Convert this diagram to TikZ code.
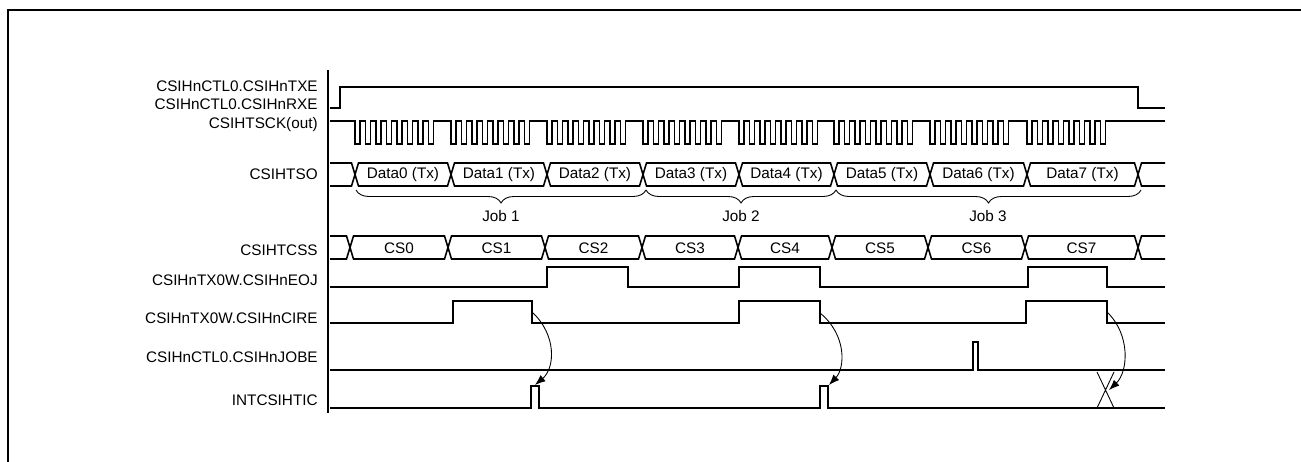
\documentclass[tikz,border=0pt]{standalone}
\usepackage{fontspec}
\setmainfont{Liberation Sans}
\usetikzlibrary{arrows.meta,decorations.pathreplacing}

\begin{document}
\begin{tikzpicture}[x=0.02cm, y=-0.02cm,
  sig/.style={line width=0.9pt, line join=miter},
  siglabel/.style={anchor=east, inner sep=0pt, font=\fontsize{8.7}{10}\selectfont},
  buslabel/.style={inner sep=0pt, font=\fontsize{8.7}{10}\selectfont},
  evarrow/.style={line width=0.5pt, -{Latex[length=2.1mm, width=1.6mm]}},
  jobbrace/.style={line width=0.5pt, decorate, decoration={brace, mirror, amplitude=0.26cm}}]

  \useasboundingbox (0,0) rectangle (1301,462);
  \draw[line width=1.1pt] (8,462) -- (8,10) -- (1301,10);
  \draw[line width=0.9pt] (328,70) -- (328,413);

  \node[siglabel] (ltxe)  at (318,86)  {CSIHnCTL0.CSIHnTXE};
  \node[siglabel] (lrxe)  at (318,104) {CSIHnCTL0.CSIHnRXE};
  \node[siglabel] (lsck)  at (318,125) {CSIHTSCK(out)};
  \node[siglabel] (lso)   at (318,174) {CSIHTSO};
  \node[siglabel] (lcss)  at (318,250) {CSIHTCSS};
  \node[siglabel] (leoj)  at (318,280) {CSIHnTX0W.CSIHnEOJ};
  \node[siglabel] (lcire) at (318,318) {CSIHnTX0W.CSIHnCIRE};
  \node[siglabel] (ljobe) at (318,357) {CSIHnCTL0.CSIHnJOBE};
  \node[siglabel] (lint)  at (318,400) {INTCSIHTIC};

  \draw[sig] (330,108) -- (340,108) -- (340,87) -- (1138,87) -- (1138,108) -- (1165,108);

  \draw[sig] (330,121)
    foreach \s in {355,451,547,643,739,834,930,1027} {
      foreach \k in {0,...,7} { -- ({\s+10.5*\k},121) -- ++(0,23) -- ++(5,0) -- ++(0,-23) }
    } -- (1165,121);

  \draw[sig] (330,163) -- (351.5,163) -- (355,174.5) -- (351.5,186) -- (330,186);
  \foreach \a/\b/\n in {355/451/0, 451/547/1, 547/643/2, 643/739/3, 739/834/4, 834/930/5, 930/1027/6, 1027/1138/7} {
    \draw[sig] (\a,174.5) -- (\a+3.5,163) -- (\b-3.5,163) -- (\b,174.5) -- (\b-3.5,186) -- (\a+3.5,186) -- cycle;
    \node[buslabel] (d\n) at ({(\a+\b)/2},175) {Data\n\ (Tx)};
  }
  \draw[sig] (1165,163) -- (1141.5,163) -- (1138,174.5) -- (1141.5,186) -- (1165,186);

  \draw[jobbrace] (356,190) -- (646,190);
  \draw[jobbrace] (646,190) -- (836,190);
  \draw[jobbrace] (836,190) -- (1141,190);
  \node[buslabel] (job1) at (501,216) {Job 1};
  \node[buslabel] (job2) at (741,216) {Job 2};
  \node[buslabel] (job3) at (988,216) {Job 3};

  \draw[sig] (330,236) -- (346.5,236) -- (350,247.5) -- (346.5,259) -- (330,259);
  \foreach \a/\b/\n in {350/448/0, 448/545/1, 545/642/2, 642/738/3, 738/832/4, 832/928/5, 928/1025/6, 1025/1138/7} {
    \draw[sig] (\a,247.5) -- (\a+3.5,236) -- (\b-3.5,236) -- (\b,247.5) -- (\b-3.5,259) -- (\a+3.5,259) -- cycle;
    \node[buslabel] (cs\n) at ({(\a+\b)/2},248) {CS\n};
  }
  \draw[sig] (1165,236) -- (1141.5,236) -- (1138,247.5) -- (1141.5,259) -- (1165,259);

  \draw[sig] (330,287) foreach \a/\b in {547/628, 739/820, 1028/1107} {
    -- (\a,287) -- (\a,267) -- (\b,267) -- (\b,287) } -- (1165,287);

  \draw[sig] (330,323) foreach \a/\b in {453/532, 739/820, 1026/1107} {
    -- (\a,323) -- (\a,301) -- (\b,301) -- (\b,323) } -- (1165,323);

  \draw[sig] (330,370) -- (973,370) -- (973,342) -- (978,342) -- (978,370) -- (1165,370);

  \draw[sig] (330,408) foreach \a/\b in {531/539, 820/828} {
    -- (\a,408) -- (\a,386) -- (\b,386) -- (\b,408) } -- (1165,408);
  \draw[line width=0.5pt] (1097,372) -- (1114,408) (1114,372) -- (1097,408);

  \coordinate (cire1) at (532,312);
  \coordinate (cire2) at (820,313);
  \coordinate (cire3) at (1107,312);
  \coordinate (int1) at (535,385);
  \coordinate (int2) at (829,385);
  \coordinate (int3) at (1109,390);
  \draw[evarrow] (cire1) .. controls (557,335) and (555,368) .. (int1);
  \draw[evarrow] (cire2) .. controls (847,335) and (845,368) .. (int2);
  \draw[evarrow] (cire3) .. controls (1131,335) and (1128,372) .. (int3);

\end{tikzpicture}
\end{document}
